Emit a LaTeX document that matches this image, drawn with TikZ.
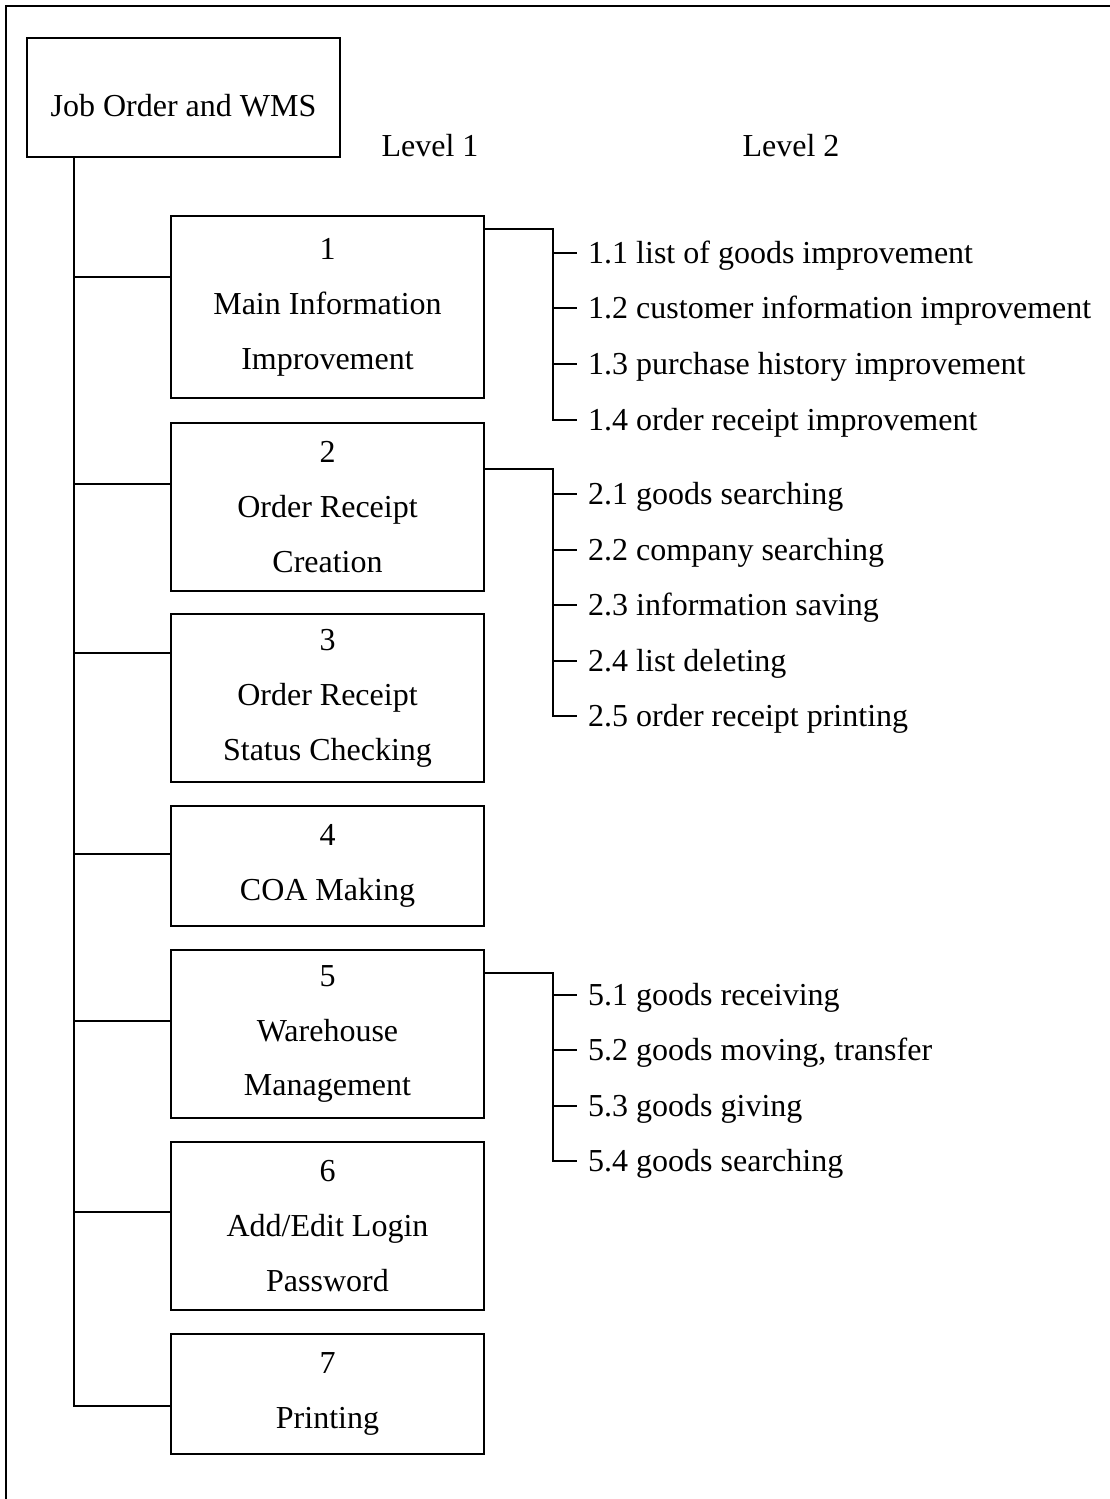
\documentclass[tikz,border=0pt]{standalone}
\usepackage{fontspec}
\setmainfont{Liberation Serif}
\usetikzlibrary{calc}
\tikzstyle{rootbox} = [rectangle, draw=black, line width=0.7pt, minimum width=117.4pt, minimum height=44.6pt, text centered, text height=14pt, text depth=0pt]
\tikzstyle{lvbox} = [rectangle, draw=black, line width=0.7pt, minimum width=117.4pt, minimum height=63pt, align=center, font=\fontsize{12pt}{20.6pt}\selectfont]
\tikzstyle{sub} = [anchor=west, inner sep=4pt, text height=8pt, text depth=0pt]
\tikzstyle{link} = [line width=0.7pt]

\begin{document}
\begin{tikzpicture}[x=0.375pt, y=-0.375pt, font=\fontsize{12pt}{14pt}\selectfont]
\useasboundingbox (0,0) rectangle (1110,1499);

% frame, cut at right and bottom
\draw [line width=0.9pt] (1115,6) -| (6,1505);

\node (root) [rootbox] at (183.5,97.5) {Job Order and WMS};
\node (lv1) at (430,146) {Level 1};
\node (lv2) at (791,146) {Level 2};

% level 1
\node (m1) [lvbox, minimum height=68.25pt] at (327.5,307) {1\\Main Information\\Improvement};
\node (m2) [lvbox] at (327.5,507) {2\\Order Receipt\\Creation};
\node (m3) [lvbox] at (327.5,698) {3\\Order Receipt\\Status Checking};
\node (m4) [lvbox, minimum height=45pt] at (327.5,866) {4\\COA Making};
\node (m5) [lvbox] at (327.5,1034) {5\\Warehouse\\Management};
\node (m6) [lvbox] at (327.5,1226) {6\\Add/Edit Login\\Password};
\node (m7) [lvbox, minimum height=45pt] at (327.5,1394) {7\\Printing};

% level 2
\node (s11) [sub] at (577,253) {1.1 list of goods improvement};
\node (s12) [sub] at (577,308) {1.2 customer information improvement};
\node (s13) [sub] at (577,364) {1.3 purchase history improvement};
\node (s14) [sub] at (577,420) {1.4 order receipt improvement};

\node (s21) [sub] at (577,494) {2.1 goods searching};
\node (s22) [sub] at (577,550) {2.2 company searching};
\node (s23) [sub] at (577,605) {2.3 information saving};
\node (s24) [sub] at (577,661) {2.4 list deleting};
\node (s25) [sub] at (577,716) {2.5 order receipt printing};

\node (s51) [sub] at (577,995) {5.1 goods receiving};
\node (s52) [sub] at (577,1050) {5.2 goods moving, transfer};
\node (s53) [sub] at (577,1106) {5.3 goods giving};
\node (s54) [sub] at (577,1161) {5.4 goods searching};

% trunk
\coordinate (trunk) at ($(root.south west)+(48,0)$);
\foreach \n/\d in {1/62,2/62,3/40,4/49,5/72,6/71,7/73}
  \path ($(m\n.north west)+(0,\d)$) coordinate (c\n);
\draw [link] (trunk) -- (trunk |- c7) -- (c7);
\foreach \n in {1,...,6}
  \draw [link] (trunk |- c\n) -- (c\n);

% brackets
\draw [link] ($(m1.north east)+(0,14)$) -| ($(s14.west)+(-24,0)$) -- (s14.west);
\draw [link] ($(m2.north east)+(0,47)$) -| ($(s25.west)+(-24,0)$) -- (s25.west);
\draw [link] ($(m5.north east)+(0,24)$) -| ($(s54.west)+(-24,0)$) -- (s54.west);
\foreach \s in {s11,s12,s13,s21,s22,s23,s24,s51,s52,s53}
  \draw [link] ($(\s.west)+(-24,0)$) -- (\s.west);

\end{tikzpicture}
\end{document}
